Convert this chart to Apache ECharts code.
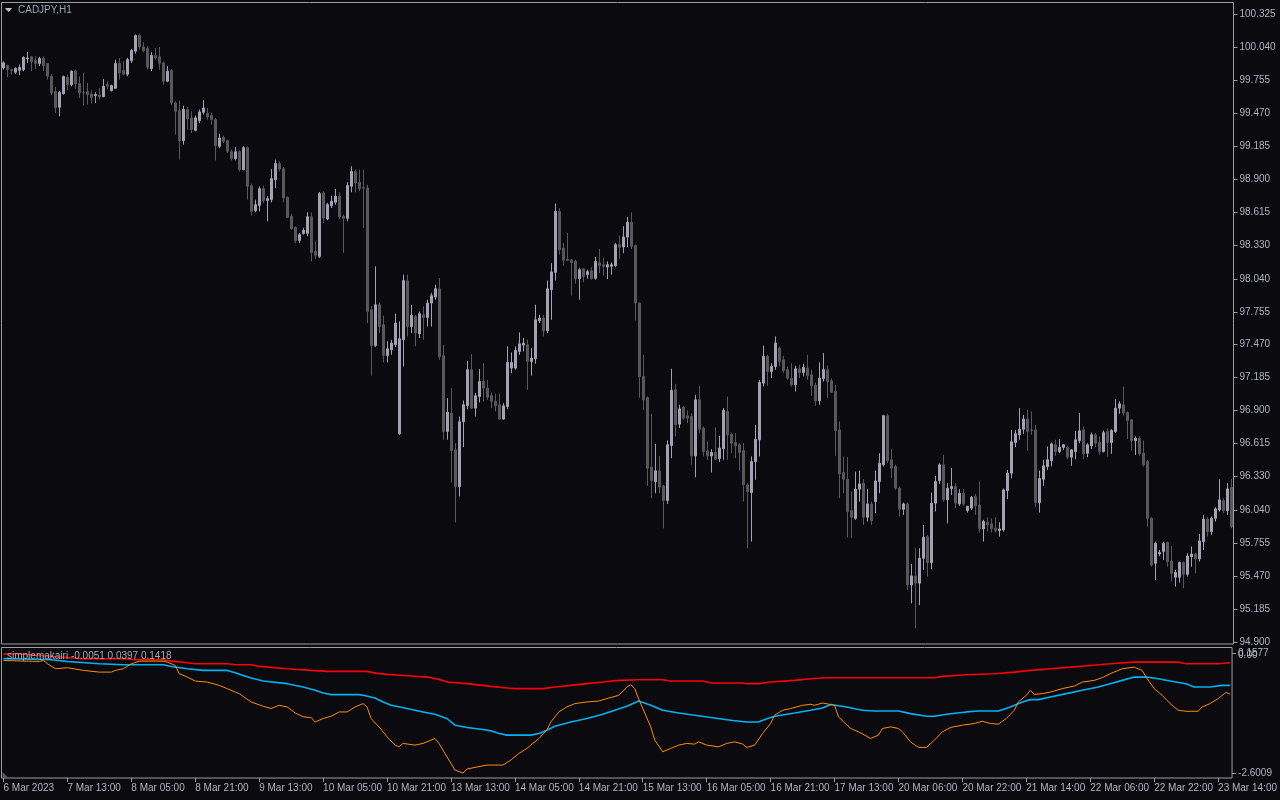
<!DOCTYPE html>
<html><head><meta charset="utf-8">
<script src="https://cdn.jsdelivr.net/npm/echarts@6/dist/echarts.min.js"></script>
<style>html,body{margin:0;padding:0;background:#0a0a0f;}#c{width:1280px;height:800px;}</style>
</head><body><div id="c"></div>
<script>
const symbolTitle = 'CADJPY,H1';
const indicatorTitle = 'simplemakairi -0.0051 0.0397 0.1418';
const timeTickLabels = ['6 Mar 2023','7 Mar 13:00','8 Mar 05:00','8 Mar 21:00','9 Mar 13:00','10 Mar 05:00','10 Mar 21:00','13 Mar 13:00','14 Mar 05:00','14 Mar 21:00','15 Mar 13:00','16 Mar 05:00','16 Mar 21:00','17 Mar 13:00','20 Mar 06:00','20 Mar 22:00','21 Mar 14:00','22 Mar 06:00','22 Mar 22:00','23 Mar 14:00'];
const priceTickLabels = [100.325,100.040,99.755,99.470,99.185,98.900,98.615,98.330,98.040,97.755,97.470,97.185,96.900,96.615,96.330,96.040,95.755,95.470,95.185,94.900];
const indicatorTickLabels = [0.1577, -2.6009];
const indicatorLevelLabels = [0];

// [open, high, low, close] per H1 bar
const ohlc = [
[99.863,99.921,99.849,99.907],[99.884,99.892,99.783,99.849],[99.849,99.858,99.806,99.840],[99.826,99.869,99.811,99.860],
[99.843,99.892,99.800,99.866],[99.849,99.964,99.834,99.953],[99.944,100.002,99.907,99.950],[99.959,99.964,99.834,99.918],
[99.927,99.964,99.855,99.901],[99.901,99.959,99.878,99.944],[99.947,99.964,99.834,99.884],[99.901,99.907,99.762,99.791],
[99.791,99.811,99.627,99.647],[99.659,99.699,99.474,99.520],[99.523,99.662,99.445,99.653],[99.641,99.797,99.633,99.788],
[99.783,99.806,99.670,99.719],[99.719,99.843,99.705,99.832],[99.837,99.849,99.682,99.725],[99.728,99.791,99.604,99.647],
[99.650,99.820,99.537,99.647],[99.659,99.734,99.546,99.633],[99.638,99.670,99.555,99.607],[99.624,99.653,99.561,99.633],
[99.630,99.690,99.589,99.612],[99.615,99.768,99.609,99.705],[99.719,99.748,99.676,99.705],[99.667,99.719,99.659,99.710],
[99.687,99.935,99.682,99.901],[99.901,99.950,99.762,99.820],[99.840,99.921,99.803,99.809],[99.809,99.950,99.791,99.935],
[99.927,100.028,99.907,100.013],[100.008,100.152,99.987,100.143],[100.143,100.160,100.022,100.045],[100.045,100.085,99.999,100.013],
[100.031,100.051,99.849,99.869],[99.858,99.999,99.834,99.970],[99.970,100.036,99.935,99.950],[99.959,100.045,99.849,99.904],
[99.907,99.921,99.719,99.748],[99.748,99.878,99.739,99.834],[99.840,99.855,99.546,99.561],[99.561,99.575,99.287,99.488],
[99.494,99.581,99.070,99.235],[99.235,99.537,99.200,99.503],[99.503,99.526,99.330,99.422],[99.431,99.488,99.301,99.330],
[99.324,99.451,99.315,99.431],[99.408,99.503,99.387,99.483],[99.480,99.584,99.460,99.517],[99.468,99.517,99.416,99.439],
[99.451,99.480,99.373,99.416],[99.416,99.431,99.064,99.191],[99.186,99.295,99.171,99.258],[99.263,99.278,99.214,99.229],
[99.235,99.243,99.128,99.142],[99.139,99.157,99.064,99.079],[99.079,99.180,99.064,99.139],[99.139,99.151,98.969,98.984],
[98.984,99.186,98.978,99.174],[99.174,99.186,98.724,98.840],[98.845,98.863,98.586,98.623],[98.629,98.724,98.615,98.681],
[98.675,98.840,98.623,98.819],[98.819,98.845,98.695,98.716],[98.718,98.753,98.537,98.733],[98.724,98.989,98.701,98.906],
[98.897,99.070,98.825,99.036],[99.036,99.056,98.969,98.989],[98.992,99.007,98.701,98.739],[98.744,98.753,98.566,98.571],
[98.580,98.603,98.465,98.473],[98.485,98.493,98.349,98.369],[98.372,98.436,98.349,98.421],[98.433,98.479,98.421,98.459],
[98.433,98.615,98.407,98.577],[98.577,98.615,98.191,98.268],[98.277,98.364,98.211,98.243],[98.234,98.790,98.220,98.776],
[98.782,98.797,98.523,98.566],[98.557,98.696,98.546,98.681],[98.673,98.759,98.652,98.710],[98.702,98.817,98.681,98.753],
[98.753,98.788,98.557,98.575],[98.580,98.595,98.263,98.563],[98.563,98.875,98.537,98.846],[98.840,99.013,98.788,98.967],
[98.967,98.984,98.788,98.869],[98.875,98.984,98.797,98.820],[98.828,98.984,98.479,98.822],[98.825,98.854,97.657,97.758],
[97.773,97.807,97.202,97.464],[97.464,98.148,97.450,97.816],[97.816,97.836,97.571,97.628],[97.643,97.721,97.317,97.378],
[97.378,97.499,97.317,97.435],[97.427,97.513,97.383,97.484],[97.470,97.738,97.450,97.657],[96.700,97.672,96.691,97.522],
[97.513,98.076,97.282,98.026],[98.023,98.076,97.542,97.628],[97.628,97.816,97.571,97.724],[97.715,97.729,97.456,97.571],
[97.565,97.758,97.528,97.738],[97.729,97.801,97.513,97.706],[97.706,97.859,97.628,97.830],[97.830,97.917,97.628,97.894],
[97.882,97.989,97.859,97.954],[97.954,98.047,97.340,97.369],[97.375,97.470,96.648,96.720],[96.720,97.008,96.648,96.887],
[96.879,97.095,96.279,96.556],[96.561,96.619,95.933,96.244],[96.244,96.850,96.158,96.804],[96.804,96.988,96.584,96.951],
[96.942,97.332,96.913,97.254],[97.254,97.389,96.913,96.922],[96.922,97.052,96.850,97.029],[97.023,97.259,96.971,97.153],
[97.153,97.311,96.980,97.095],[97.095,97.167,96.994,97.017],[97.029,97.058,96.922,96.980],[96.980,97.046,96.893,96.942],
[96.951,97.046,96.821,96.827],[96.827,96.965,96.821,96.942],[96.936,97.456,96.913,97.317],[97.268,97.404,97.225,97.317],
[97.268,97.456,97.254,97.421],[97.412,97.577,97.383,97.478],[97.467,97.528,97.412,97.484],[97.470,97.513,97.080,97.326],
[97.326,97.441,97.202,97.355],[97.349,97.816,97.306,97.686],[97.677,97.729,97.657,97.700],[97.700,97.729,97.542,97.591],
[97.591,98.026,97.571,97.954],[97.946,98.176,97.686,98.099],[98.096,98.690,98.026,98.624],[98.624,98.652,98.249,98.292],
[98.306,98.349,98.153,98.200],[98.208,98.436,98.191,98.200],[98.205,98.211,97.894,98.182],[98.191,98.205,97.998,98.041],
[98.041,98.133,97.859,98.119],[98.127,98.133,98.009,98.061],[98.076,98.119,98.041,98.102],[98.110,98.139,98.032,98.041],
[98.044,98.228,98.032,98.191],[98.179,98.300,98.090,98.153],[98.162,98.220,98.067,98.148],[98.142,98.191,98.038,98.162],
[98.148,98.182,98.076,98.162],[98.153,98.349,98.142,98.335],[98.335,98.413,98.211,98.312],[98.315,98.494,98.263,98.401],
[98.401,98.575,98.315,98.528],[98.528,98.615,98.298,98.321],[98.327,98.335,97.680,97.830],[97.830,97.836,97.011,97.196],
[97.196,97.383,96.907,96.994],[97.014,97.023,96.250,96.403],[96.411,96.873,96.143,96.296],[96.287,96.613,96.186,96.380],
[96.380,96.509,96.186,96.238],[96.250,96.258,95.883,96.123],[96.123,96.642,96.094,96.605],[96.599,97.262,96.489,97.075],
[97.080,97.132,96.677,96.778],[96.784,96.951,96.749,96.916],[96.930,96.942,96.821,96.835],[96.855,96.902,96.792,96.835],
[96.850,96.879,96.431,96.509],[96.509,97.037,96.325,96.994],[96.994,97.115,96.705,96.740],[96.749,96.763,96.504,96.547],
[96.553,96.633,96.475,96.509],[96.509,96.567,96.365,96.538],[96.538,96.755,96.475,96.480],[96.486,96.682,96.457,96.576],
[96.570,96.922,96.475,96.902],[96.893,97.023,96.475,96.691],[96.697,96.711,96.532,96.619],[96.625,96.705,96.489,96.596],
[96.605,96.619,96.382,96.538],[96.555,96.619,96.114,96.258],[96.258,96.273,95.710,96.201],[96.192,96.504,95.768,96.460],
[96.460,96.778,96.302,96.653],[96.648,97.167,96.504,97.144],[97.138,97.461,97.109,97.369],[97.369,97.383,97.115,97.239],
[97.239,97.311,97.181,97.282],[97.282,97.542,97.254,97.484],[97.441,97.455,97.282,97.326],[97.340,97.374,97.225,97.248],
[97.254,97.282,97.167,97.181],[97.181,97.311,97.109,97.124],[97.124,97.288,97.066,97.262],[97.262,97.297,97.181,97.230],
[97.230,97.305,97.196,97.274],[97.268,97.383,97.167,97.201],[97.210,97.254,97.028,97.115],[97.121,97.144,96.942,96.985],
[96.985,97.317,96.951,97.181],[97.176,97.398,97.152,97.254],[97.254,97.291,97.008,97.152],[97.158,97.181,97.052,97.060],
[97.066,97.124,96.509,96.728],[96.734,96.807,96.143,96.353],[96.365,96.504,96.186,96.307],[96.307,96.498,95.805,96.028],
[96.036,96.201,95.797,95.979],[95.970,96.374,95.956,96.221],[96.221,96.382,96.114,96.267],[96.273,96.307,95.912,95.979],
[95.979,96.221,95.941,96.094],[96.094,96.114,95.912,95.950],[96.114,96.382,96.013,96.293],[96.287,96.532,96.186,96.446],
[96.432,96.864,96.417,96.856],[96.856,96.873,96.446,96.469],[96.475,96.567,96.316,96.403],[96.417,96.432,96.215,96.230],
[96.230,96.244,95.985,96.048],[96.048,96.106,95.999,96.094],[96.094,96.106,95.350,95.393],[95.393,95.575,95.234,95.471],
[95.471,95.711,95.018,95.408],[95.408,95.711,95.220,95.624],[95.624,95.912,95.523,95.806],[95.811,95.826,95.465,95.586],
[95.586,96.192,95.529,96.100],[96.100,96.336,96.028,96.287],[96.296,96.446,96.267,96.432],[96.432,96.518,96.114,96.129],
[96.129,96.273,95.927,96.230],[96.227,96.403,96.172,96.244],[96.244,96.273,96.057,96.100],[96.094,96.221,96.077,96.186],
[96.186,96.221,96.077,96.094],[96.036,96.077,96.019,96.071],[96.057,96.163,96.042,96.149],[96.158,96.181,95.999,96.077],
[96.085,96.287,95.846,95.878],[95.878,95.956,95.768,95.941],[95.935,95.979,95.855,95.912],[95.921,95.970,95.846,95.878],
[95.884,95.979,95.846,95.863],[95.863,95.935,95.811,95.878],[95.869,96.227,95.855,96.215],[96.209,96.388,96.135,96.359],
[96.359,96.734,96.316,96.631],[96.625,96.734,96.584,96.700],[96.691,96.922,96.648,96.740],[96.740,96.864,96.700,96.827],
[96.827,96.907,96.553,96.720],[96.734,96.893,96.691,96.729],[96.734,96.778,96.065,96.106],[96.106,96.382,96.019,96.313],
[96.307,96.475,96.250,96.423],[96.417,96.590,96.388,96.475],[96.469,96.625,96.417,96.613],[96.605,96.648,96.509,96.547],
[96.547,96.654,96.532,96.584],[96.582,96.613,96.561,96.605],[96.582,96.596,96.480,96.498],[96.498,96.567,96.423,96.561],
[96.547,96.726,96.480,96.648],[96.642,96.879,96.619,96.726],[96.734,96.763,96.480,96.527],[96.532,96.619,96.498,96.605],
[96.596,96.711,96.567,96.691],[96.691,96.706,96.584,96.619],[96.625,96.677,96.518,96.547],[96.547,96.729,96.538,96.711],
[96.720,96.749,96.504,96.625],[96.625,96.740,96.527,96.729],[96.720,97.000,96.706,96.922],[96.922,96.980,96.873,96.959],
[96.951,97.109,96.856,96.879],[96.884,96.893,96.654,96.815],[96.821,96.827,96.556,96.642],[96.642,96.677,96.518,96.662],
[96.662,96.677,96.509,96.527],[96.532,96.642,96.417,96.432],[96.460,96.475,95.898,95.970],[95.970,95.979,95.552,95.566],
[95.581,95.768,95.436,95.754],[95.661,95.696,95.644,95.673],[95.682,95.768,95.610,95.754],[95.760,95.768,95.552,95.595],
[95.601,95.730,95.422,95.494],[95.460,95.523,95.379,95.500],[95.460,95.595,95.414,95.587],[95.587,95.595,95.365,95.486],
[95.486,95.667,95.465,95.644],[95.638,95.725,95.552,95.661],[95.661,95.673,95.494,95.618],[95.618,95.834,95.595,95.774],
[95.768,95.999,95.696,95.962],[95.962,95.979,95.811,95.855],[95.855,95.985,95.826,95.970],[95.970,96.065,95.941,96.051],
[96.042,96.307,96.028,96.129],[96.123,96.143,96.013,96.036],[96.036,96.273,95.999,96.224],[96.236,96.310,95.884,95.898]
];

// indicator buffers: [bar index, value]
const redLine = [[0,0.142],[3,0.158],[9,0.112],[20,0.036],[30,0.036],[33,0.013],[40,0.013],[42,-0.019],[46,-0.056],[48,-0.079],[56,-0.079],[58,-0.102],[62,-0.102],[64,-0.141],[71,-0.194],[77,-0.233],[81,-0.256],[91,-0.256],[93,-0.295],[96,-0.325],[101,-0.355],[106,-0.387],[109,-0.440],[111,-0.502],[116,-0.539],[122,-0.601],[126,-0.640],[128,-0.654],[135,-0.654],[138,-0.617],[142,-0.578],[146,-0.539],[150,-0.502],[154,-0.463],[159,-0.447],[165,-0.447],[167,-0.479],[175,-0.479],[177,-0.525],[185,-0.525],[186,-0.539],[189,-0.539],[192,-0.502],[198,-0.463],[202,-0.424],[206,-0.401],[233,-0.401],[235,-0.371],[241,-0.332],[248,-0.309],[253,-0.272],[257,-0.233],[262,-0.194],[267,-0.157],[272,-0.118],[277,-0.079],[283,-0.042],[294,-0.042],[296,-0.079],[304,-0.079],[307,-0.056]];
const blueLine = [[0,0.040],[5,0.030],[12,0.013],[16,-0.026],[24,-0.079],[30,-0.102],[40,-0.102],[42,-0.141],[46,-0.194],[50,-0.233],[56,-0.233],[58,-0.286],[60,-0.348],[62,-0.410],[65,-0.479],[71,-0.539],[75,-0.617],[78,-0.693],[80,-0.755],[82,-0.792],[89,-0.792],[90,-0.808],[93,-0.870],[95,-0.962],[97,-1.038],[101,-1.113],[105,-1.191],[108,-1.245],[111,-1.343],[113,-1.497],[116,-1.550],[120,-1.596],[122,-1.628],[124,-1.688],[126,-1.727],[132,-1.727],[134,-1.688],[136,-1.612],[138,-1.521],[142,-1.422],[146,-1.343],[150,-1.245],[153,-1.153],[156,-1.061],[159,-0.940],[162,-1.038],[165,-1.153],[169,-1.215],[173,-1.268],[177,-1.320],[182,-1.383],[186,-1.422],[189,-1.422],[190,-1.383],[193,-1.291],[198,-1.215],[202,-1.153],[205,-1.100],[207,-1.021],[211,-1.076],[215,-1.153],[218,-1.169],[224,-1.169],[227,-1.230],[231,-1.291],[233,-1.291],[236,-1.245],[241,-1.191],[244,-1.169],[249,-1.169],[252,-1.076],[255,-0.962],[257,-0.907],[259,-0.907],[262,-0.847],[266,-0.769],[270,-0.693],[274,-0.617],[277,-0.539],[280,-0.463],[283,-0.387],[286,-0.387],[289,-0.424],[292,-0.479],[296,-0.539],[298,-0.617],[302,-0.617],[305,-0.578],[307,-0.578]];
const orangeLine = [[0,-0.005],[9,-0.026],[10,-0.003],[11,-0.079],[13,-0.194],[16,-0.171],[20,-0.233],[24,-0.272],[27,-0.272],[28,-0.233],[30,-0.194],[32,-0.079],[34,-0.019],[40,-0.019],[41,-0.042],[43,-0.118],[44,-0.309],[46,-0.387],[48,-0.479],[51,-0.502],[54,-0.578],[56,-0.654],[59,-0.769],[62,-0.962],[65,-1.061],[67,-1.113],[69,-1.038],[71,-1.076],[73,-1.215],[75,-1.306],[77,-1.320],[78,-1.422],[80,-1.343],[82,-1.291],[84,-1.191],[86,-1.191],[88,-1.076],[90,-0.999],[91,-1.076],[92,-1.343],[94,-1.535],[96,-1.765],[98,-1.957],[99,-1.996],[100,-1.918],[103,-1.957],[105,-1.918],[108,-1.803],[109,-1.918],[111,-2.226],[113,-2.532],[115,-2.601],[116,-2.509],[118,-2.471],[121,-2.417],[125,-2.417],[127,-2.302],[129,-2.148],[131,-2.033],[132,-1.957],[134,-1.803],[136,-1.612],[137,-1.422],[139,-1.191],[141,-1.076],[143,-0.999],[146,-0.962],[149,-0.939],[151,-0.884],[154,-0.808],[156,-0.617],[157,-0.562],[158,-0.654],[159,-0.895],[162,-1.536],[163,-1.842],[165,-2.111],[167,-2.033],[169,-1.957],[171,-1.918],[173,-1.934],[174,-1.881],[176,-1.957],[179,-1.996],[181,-1.918],[183,-1.881],[185,-1.934],[186,-2.010],[188,-1.957],[190,-1.688],[192,-1.458],[193,-1.268],[195,-1.153],[197,-1.113],[200,-1.038],[202,-1.015],[203,-1.038],[205,-0.985],[208,-1.038],[209,-1.306],[212,-1.573],[214,-1.650],[216,-1.750],[217,-1.803],[219,-1.727],[220,-1.573],[222,-1.536],[224,-1.573],[225,-1.650],[227,-1.881],[229,-2.010],[231,-2.010],[233,-1.842],[235,-1.650],[237,-1.550],[240,-1.497],[243,-1.458],[245,-1.406],[247,-1.458],[249,-1.474],[251,-1.343],[253,-1.153],[254,-0.962],[256,-0.808],[257,-0.693],[258,-0.785],[260,-0.769],[262,-0.732],[265,-0.654],[268,-0.594],[270,-0.502],[273,-0.463],[275,-0.401],[277,-0.309],[280,-0.194],[283,-0.157],[285,-0.233],[286,-0.387],[288,-0.654],[290,-0.808],[292,-0.999],[294,-1.153],[296,-1.176],[299,-1.176],[300,-1.076],[302,-0.999],[304,-0.884],[306,-0.740],[307,-0.780]];

const categories = ohlc.map((_, i) => String(i));
const candleData = ohlc.map(r => [r[0], r[3], r[2], r[1]]);

const FONT = 'Liberation Sans';
const TXT = '#b0b4c0';
const FRAME = '#9c9ca2';
const LABEL_STEP = 16;
const IND_MIN = -2.7158, IND_MAX = 0.2956;

const chart = echarts.init(document.getElementById('c'), null, {renderer: 'canvas'});
chart.setOption({
  animation: false,
  backgroundColor: '#0a0a0f',
  grid: [
    {left: 1.5, right: 46.5, top: 2.5, height: 641.5, show: true, borderColor: FRAME, borderWidth: 1, backgroundColor: 'transparent'},
    {left: 1.5, right: 46.5, top: 647.5, height: 130.5, show: true, borderColor: FRAME, borderWidth: 1, backgroundColor: 'transparent'}
  ],
  xAxis: [
    {type: 'category', gridIndex: 0, data: categories, boundaryGap: true, show: false},
    {type: 'category', gridIndex: 1, data: categories, boundaryGap: true, position: 'bottom',
     axisLine: {show: false, onZero: false},
     axisTick: {show: true, alignWithLabel: true, length: 4, interval: (i) => i % LABEL_STEP === 0, lineStyle: {color: FRAME}},
     axisLabel: {show: true, interval: (i) => i % LABEL_STEP === 0, align: 'left', margin: 5,
       color: TXT, fontFamily: FONT, fontSize: 10,
       formatter: (v, i) => timeTickLabels[Math.round(i / LABEL_STEP)] || ''},
     splitLine: {show: false}}
  ],
  yAxis: [
    {type: 'value', gridIndex: 0, position: 'right', min: 94.8827, max: 100.4288, scale: true,
     axisLine: {show: false}, splitLine: {show: false},
     axisTick: {show: true, length: 4, customValues: priceTickLabels, lineStyle: {color: FRAME}},
     axisLabel: {show: true, customValues: priceTickLabels, margin: 6, color: TXT, fontFamily: FONT, fontSize: 10,
       formatter: (v) => v.toFixed(3)}},
    {type: 'value', gridIndex: 1, position: 'right', min: IND_MIN, max: IND_MAX,
     axisLine: {show: false}, splitLine: {show: false},
     axisTick: {show: true, length: 4, customValues: indicatorTickLabels, lineStyle: {color: FRAME}},
     axisLabel: {show: true, customValues: indicatorTickLabels, margin: 6, color: TXT, fontFamily: FONT, fontSize: 10,
       formatter: (v) => v.toFixed(4)}},
    {type: 'value', gridIndex: 1, position: 'right', offset: 0, min: IND_MIN, max: IND_MAX,
     axisLine: {show: false}, splitLine: {show: false}, axisTick: {show: false},
     axisLabel: {show: true, customValues: indicatorLevelLabels, margin: 6, color: TXT, fontFamily: FONT, fontSize: 10,
       verticalAlign: 'bottom', formatter: () => '0.00'}}
  ],
  series: [
    {type: 'candlestick', xAxisIndex: 0, yAxisIndex: 0, data: candleData, barWidth: 2,
     itemStyle: {color: '#a2a2b4', color0: '#57575c', borderColor: '#a2a2b4', borderColor0: '#57575c', borderWidth: 1}},
    {type: 'line', xAxisIndex: 1, yAxisIndex: 1, data: redLine, showSymbol: false, lineStyle: {color: '#ff0000', width: 1.6}},
    {type: 'line', xAxisIndex: 1, yAxisIndex: 1, data: blueLine, showSymbol: false, lineStyle: {color: '#00b2f5', width: 1.6}},
    {type: 'line', xAxisIndex: 1, yAxisIndex: 1, data: orangeLine, showSymbol: false, lineStyle: {color: '#ff8c00', width: 1}}
  ],
  graphic: [
    {type: 'polygon', shape: {points: [[5, 8], [12, 8], [8.5, 12]]}, style: {fill: '#c4c4cc'}},
    {type: 'polygon', shape: {points: [[2.5, 772], [2.5, 778], [8.5, 778]]}, style: {fill: '#5a5a60'}},
    {type: 'text', x: 18, y: 5, style: {text: symbolTitle, fill: '#9aa4b8', font: '10px "' + FONT + '"'}},
    {type: 'text', x: 7, y: 651, z: 10, style: {text: indicatorTitle, fill: '#a8a8b0', font: '10px "' + FONT + '"'}}
  ]
});
</script>
</body></html>
